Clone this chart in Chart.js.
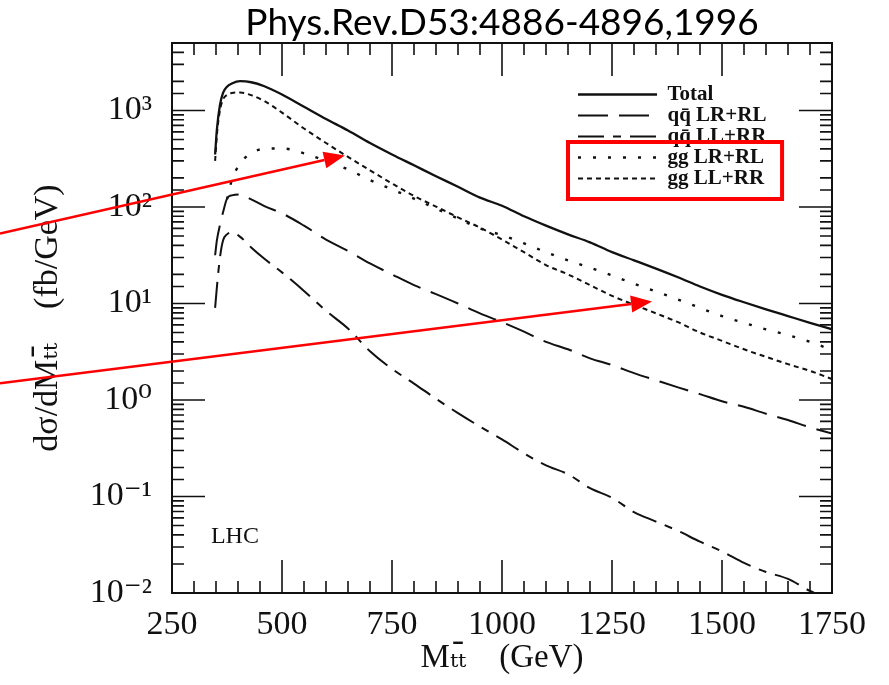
<!DOCTYPE html>
<html><head><meta charset="utf-8">
<script src="https://cdn.jsdelivr.net/npm/chart.js@4/dist/chart.umd.min.js"></script>
<style>html,body{margin:0;padding:0;background:#fff}canvas{display:block}</style>
</head><body>
<canvas id="c" width="889" height="685"></canvas>
<script>
// ---- data ----
const massGeV = [348,352,359,366,375,386,405,430,460,500,550,600,650,700,750,800,850,900,950,1000,1050,1100,1150,1200,1250,1300,1350,1400,1450,1500,1550,1600,1650,1700,1750];
const total   = [350,635,1140,1520,1760,1900,2010,1960,1780,1460,1090,815,620,460,350,270,208,162,125,103,80,64,52,43,34,28,23,18.7,15,12.3,10.3,8.7,7.4,6.3,5.4];
const qqLRRL  = [31.6,45,65,88,122,132,135,120,102,86,64,46,35,26,20,15.5,12.5,10,7.9,6.4,5.1,4.0,3.35,2.7,2.3,1.9,1.6,1.35,1.15,0.97,0.85,0.72,0.62,0.52,0.45];
const qqLLRR  = [9,14.7,30,45,52,54.6,49,38,29,21,13.5,8.4,5.5,3.2,2.1,1.48,1.03,0.73,0.53,0.39,0.28,0.21,0.17,0.122,0.097,0.069,0.055,0.044,0.034,0.027,0.0205,0.0165,0.014,0.0105,0.0085];
const ggLRRL  = [null,null,null,null,120,190,282,362,400,404,360,300,245,190,152,122,96,76,60,51,42,34,28,23.5,19.5,16,13.3,11,9.0,7.4,6.3,5.4,4.7,4.0,3.3];
const ggLLRR  = [300,560,1000,1300,1450,1520,1535,1440,1250,950,650,460,330,240,175,130,101,78,61,46,34,25,20,15.5,12,9.7,7.9,6.4,5.0,4.1,3.35,2.8,2.35,2.0,1.65];

const seriesLabels = ['Total', 'qq\u0304 LR+RL', 'qq\u0304 LL+RR', 'gg LR+RL', 'gg LL+RR'];
const xTickValues = [250,500,750,1000,1250,1500,1750];
const xTickLabels = ['250','500','750','1000','1250','1500','1750'];
const yTickValues = [0.01,0.1,1,10,100,1000];
const yTickLabels = ['10\u207B\u00B2','10\u207B\u00B9','10\u2070','10\u00B9','10\u00B2','10\u00B3'];
const titleText = 'Phys.Rev.D53:4886-4896,1996';
const xTitle = 'M\u209C\u209C\u0304    (GeV)';
const yTitle = 'd\u03C3/dM\u209C\u209C\u0304    (fb/GeV)';
const noteText = 'LHC';
const notePos = {x: 393, y: 0.038};
// annotation arrows, in data coordinates
const arrows = [
  {from: {x: -141, y: 53},  to: {x: 643, y: 342}},
  {from: {x: -141, y: 1.49}, to: {x: 1341, y: 10.5}}
];

const xy = arr => massGeV.map((m, i) => ({x: m, y: arr[i]}));

const serif = 'Liberation Serif, DejaVu Serif, serif';

const framePlugin = {
  id: 'frameTicks',
  afterLayout(chart) {
    const lg = chart.legend, ca = chart.chartArea;
    if (lg) { lg.left = ca.right - 254; lg.top = ca.top + 41; }
  },
  afterDatasetsDraw(chart) {
    const {ctx, chartArea: ca, scales: {x, y}} = chart;
    ctx.save();
    ctx.strokeStyle = '#111';
    ctx.lineWidth = 2;
    ctx.strokeRect(ca.left, ca.top, ca.right - ca.left, ca.bottom - ca.top);
    ctx.lineWidth = 1.6;
    ctx.beginPath();
    for (let v = x.min; v <= x.max + 1e-9; v += 50) {
      const px = x.getPixelForValue(v);
      const major = xTickValues.includes(v);
      const len = major ? 33 : 12;
      ctx.moveTo(px, ca.bottom); ctx.lineTo(px, ca.bottom - len);
      ctx.moveTo(px, ca.top); ctx.lineTo(px, ca.top + len);
    }
    y.ticks.forEach(t => {
      const v = t.value;
      if (v > y.max || v < y.min) return;
      const py = y.getPixelForValue(v);
      const lg = Math.log10(v);
      const major = Math.abs(lg - Math.round(lg)) < 1e-6;
      const len = major ? 33 : 12;
      ctx.moveTo(ca.left, py); ctx.lineTo(ca.left + len, py);
      ctx.moveTo(ca.right, py); ctx.lineTo(ca.right - len, py);
    });
    ctx.stroke();
    ctx.restore();
  },
  afterDraw(chart) {
    const {ctx, scales: {x, y}} = chart;
    ctx.save();
    // LHC note
    ctx.fillStyle = '#111';
    ctx.font = '24px ' + serif;
    ctx.textAlign = 'center';
    ctx.textBaseline = 'middle';
    ctx.fillText(noteText, x.getPixelForValue(notePos.x), y.getPixelForValue(notePos.y));
    // red box round gg legend items
    const hb = chart.legend.legendHitBoxes;
    if (hb && hb.length >= 5) {
      const a = hb[3], b = hb[4];
      const l = a.left - 10, t = a.top - 5;
      const r = Math.max(a.left + a.width, b.left + b.width) + 18;
      const bt = b.top + b.height + 10;
      ctx.strokeStyle = '#f00';
      ctx.lineWidth = 4;
      ctx.strokeRect(l, t, r - l, bt - t);
    }
    // arrows
    ctx.strokeStyle = '#f00';
    ctx.fillStyle = '#f00';
    ctx.lineWidth = 2.6;
    arrows.forEach(a => {
      const x0 = x.getPixelForValue(a.from.x), y0 = y.getPixelForValue(a.from.y);
      const x1 = x.getPixelForValue(a.to.x), y1 = y.getPixelForValue(a.to.y);
      const ang = Math.atan2(y1 - y0, x1 - x0);
      const L = 21, W = 8.5;
      const bx = x1 - L * Math.cos(ang), by = y1 - L * Math.sin(ang);
      ctx.beginPath(); ctx.moveTo(x0, y0); ctx.lineTo(bx, by); ctx.stroke();
      ctx.beginPath();
      ctx.moveTo(x1, y1);
      ctx.lineTo(bx + W * Math.sin(ang), by - W * Math.cos(ang));
      ctx.lineTo(bx - W * Math.sin(ang), by + W * Math.cos(ang));
      ctx.closePath(); ctx.fill();
    });
    ctx.restore();
  }
};

const mk = (label, arr, dash, width) => ({
  label, data: xy(arr), borderColor: '#111', backgroundColor: '#111',
  borderWidth: width, borderDash: dash, pointRadius: 0, fill: false,
  cubicInterpolationMode: 'monotone', spanGaps: false
});

new Chart(document.getElementById('c'), {
  type: 'line',
  data: {
    datasets: [
      mk(seriesLabels[0], total, [], 2.3),
      mk(seriesLabels[1], qqLRRL, [30, 11], 2),
      mk(seriesLabels[2], qqLLRR, [26, 9, 8, 9], 2),
      mk(seriesLabels[3], ggLRRL, [3, 12], 2.4),
      mk(seriesLabels[4], ggLLRR, [5, 4], 2)
    ]
  },
  options: {
    responsive: false,
    animation: false,
    devicePixelRatio: 1,
    layout: {padding: {top: 3, right: 57, bottom: 0, left: 0}},
    plugins: {
      tooltip: {enabled: false},
      title: {
        display: true, text: titleText, fullSize: false, color: '#000',
        font: {family: 'Lato, Open Sans, sans-serif', size: 37, weight: 'normal', lineHeight: 1},
        padding: {top: 2, bottom: 1}
      },
      legend: {
        position: 'chartArea', align: 'start',
        labels: {
          usePointStyle: true, pointStyle: 'line', pointStyleWidth: 79,
          color: '#111', padding: 0,
          font: {family: serif, size: 21, weight: 'bold'},
          generateLabels: chart => Chart.defaults.plugins.legend.labels.generateLabels(chart).map(it => {
            const ds = chart.data.datasets[it.datasetIndex];
            it.lineDash = ds.borderDash;
            it.lineWidth = ds.borderWidth;
            it.strokeStyle = ds.borderColor;
            it.lineCap = 'butt';
            return it;
          })
        }
      }
    },
    scales: {
      x: {
        type: 'linear', min: 250, max: 1750,
        grid: {display: false, drawTicks: false}, border: {display: false},
        ticks: {
          stepSize: 250, autoSkip: false, maxRotation: 0, padding: 12, color: '#111',
          font: {family: serif, size: 34},
          callback: v => { const i = xTickValues.indexOf(v); return i >= 0 ? xTickLabels[i] : ''; }
        },
        title: {display: true, text: xTitle, color: '#111', font: {family: serif, size: 33}, padding: {top: 7, bottom: 7}},
        afterFit: s => { s.height = 92; }
      },
      y: {
        type: 'logarithmic', min: 0.01, max: 5000,
        grid: {display: false, drawTicks: false}, border: {display: false},
        ticks: {
          autoSkip: false, padding: 20, color: '#111',
          font: {family: serif, size: 34},
          callback: v => {
            const i = yTickValues.findIndex(t => Math.abs(Math.log10(t) - Math.log10(v)) < 1e-6);
            return i >= 0 ? yTickLabels[i] : '';
          }
        },
        title: {display: true, text: yTitle, color: '#111', font: {family: serif, size: 34}, padding: {top: 28, bottom: 28}},
        afterFit: s => { s.width = 172; }
      }
    }
  },
  plugins: [framePlugin]
});
</script>
</body></html>
